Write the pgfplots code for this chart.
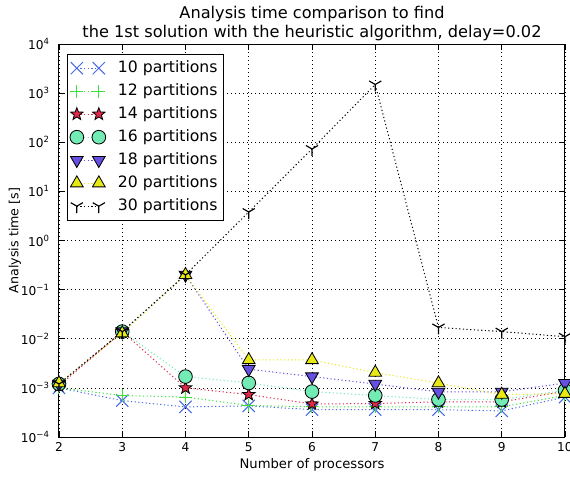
\documentclass[border=0pt]{standalone}
\usepackage{fontspec}
\setmainfont{DejaVu Sans}
\usepackage{pgfplots}
\pgfplotsset{compat=1.18}

\definecolor{c10}{RGB}{70,105,230}
\definecolor{c12}{RGB}{60,225,60}
\definecolor{c14}{RGB}{225,40,75}
\definecolor{c16}{RGB}{115,235,180}
\definecolor{c18}{RGB}{100,80,225}
\definecolor{c20}{RGB}{232,232,20}

\pgfdeclareplotmark{fstar}{%
  \pgfpathmoveto{\pgfpointpolar{90}{\pgfplotmarksize}}%
  \pgfpathlineto{\pgfpointpolar{126}{0.42\pgfplotmarksize}}%
  \pgfpathlineto{\pgfpointpolar{162}{\pgfplotmarksize}}%
  \pgfpathlineto{\pgfpointpolar{198}{0.42\pgfplotmarksize}}%
  \pgfpathlineto{\pgfpointpolar{234}{\pgfplotmarksize}}%
  \pgfpathlineto{\pgfpointpolar{270}{0.42\pgfplotmarksize}}%
  \pgfpathlineto{\pgfpointpolar{306}{\pgfplotmarksize}}%
  \pgfpathlineto{\pgfpointpolar{342}{0.42\pgfplotmarksize}}%
  \pgfpathlineto{\pgfpointpolar{18}{\pgfplotmarksize}}%
  \pgfpathlineto{\pgfpointpolar{54}{0.42\pgfplotmarksize}}%
  \pgfpathclose\pgfusepathqfillstroke}
\pgfdeclareplotmark{tridown}{%
  \pgfpathmoveto{\pgfpointorigin}\pgfpathlineto{\pgfpointpolar{270}{\pgfplotmarksize}}%
  \pgfpathmoveto{\pgfpointorigin}\pgfpathlineto{\pgfpointpolar{30}{\pgfplotmarksize}}%
  \pgfpathmoveto{\pgfpointorigin}\pgfpathlineto{\pgfpointpolar{150}{\pgfplotmarksize}}%
  \pgfusepathqstroke}

\begin{document}
\begin{tikzpicture}
\useasboundingbox (-35.4pt,-24pt) rectangle (306.6pt,262.2pt);
\begin{axis}[
  at={(0,0)}, anchor=south west,
  scale only axis, width=303.6pt, height=235.8pt,
  font=\fontsize{9.4}{11}\selectfont,
  /pgf/number format/assume math mode=true,
  ymode=log, log basis y=10,
  xmin=2, xmax=10, ymin=1e-4, ymax=1e4,
  xtick={2,3,4,5,6,7,8,9,10},
  ytick={1e-4,1e-3,1e-2,1e-1,1,10,100,1000,10000},
  yticklabel={\pgfmathtruncatemacro{\e}{round(\tick)}10\textsuperscript{\ifnum\e<0 −\number-\e\else\e\fi}},
  xticklabel style={font=\fontsize{7.3}{9}\selectfont},
  yticklabel style={font=\fontsize{7.3}{9}\selectfont, xshift=-2pt},
  major tick length=3.6pt, minor tick length=1.8pt,
  tick style={black, line width=0.5pt},
  axis line style={black, line width=0.6pt},
  grid=major,
  major grid style={black, line width=0.4pt, dash pattern=on 0.6pt off 1.8pt},
  xlabel={Number of processors},
  ylabel={Analysis time [s]},
  xlabel style={font=\fontsize{7.9}{9}\selectfont, at={(axis description cs:0.5,-0.0712)}, anchor=center},
  ylabel style={font=\fontsize{7.6}{9}\selectfont, at={(axis description cs:-0.087,0.5)}, anchor=center},
  title={Analysis time comparison to find\\the 1st solution with the heuristic algorithm, delay=0.02},
  title style={align=center, font=\fontsize{9.7}{11.4}\selectfont, at={(axis description cs:0.5,1)}, anchor=center, yshift=6.3pt},
  every axis plot/.append style={line width=0.6pt, dash pattern=on 0.7pt off 1.5pt},
  legend style={at={(0,1)}, anchor=north west, xshift=4.8pt, yshift=-5.8pt,
    font=\fontsize{9.4}{11}\selectfont, draw=black, line width=0.6pt, inner sep=1.5pt,
    row sep=0pt, nodes={text height=7pt, text depth=2pt, inner ysep=2.4pt},
    /tikz/every odd column/.append style={column sep=5.4pt}},
  legend cell align=left,
  legend image code/.code={\draw[#1] plot coordinates {(0pt,0pt) (13.2pt,0pt)};},
]
\addplot[color=c10, mark=x, mark size=5.2pt, mark options={solid, line width=0.6pt}] coordinates {
 (2,1.0e-3) (3,5.5e-4) (4,4.1e-4) (5,4.3e-4) (6,3.6e-4) (7,3.6e-4) (8,3.6e-4) (9,3.4e-4) (10,6.5e-4)};
\addlegendentry{10 partitions}
\addplot[color=c12, mark=+, mark size=3.8pt, mark options={solid, line width=0.6pt}] coordinates {
 (2,1.0e-3) (3,7.0e-4) (4,6.5e-4) (5,4.4e-4) (6,4.1e-4) (7,4.1e-4) (8,4.1e-4) (9,4.1e-4) (10,7.0e-4)};
\addlegendentry{12 partitions}
\addplot[color=c14, mark=fstar, mark size=3.9pt, mark options={solid, fill=c14, draw=black, line width=0.5pt}] coordinates {
 (2,1.1e-3) (3,0.014) (4,1.0e-3) (5,7.3e-4) (6,4.7e-4) (7,4.8e-4) (8,5.2e-4) (9,5.2e-4) (10,8.5e-4)};
\addlegendentry{14 partitions}
\addplot[color=c16, mark=*, mark size=4.1pt, mark options={solid, fill=c16, draw=black, line width=0.5pt}] coordinates {
 (2,1.2e-3) (3,0.014) (4,1.7e-3) (5,1.26e-3) (6,8.4e-4) (7,7.0e-4) (8,5.8e-4) (9,5.8e-4) (10,8.9e-4)};
\addlegendentry{16 partitions}
\addplot[color=c18, mark=triangle*, mark size=4.4pt, mark options={solid, rotate=180, fill=c18, draw=black, line width=0.5pt}] coordinates {
 (2,1.2e-3) (3,0.014) (4,0.2) (5,2.4e-3) (6,1.7e-3) (7,1.2e-3) (8,8.3e-4) (9,8.3e-4) (10,1.25e-3)};
\addlegendentry{18 partitions}
\addplot[color=c20, mark=triangle*, mark size=4.4pt, mark options={solid, fill=c20, draw=black, line width=0.5pt}] coordinates {
 (2,1.25e-3) (3,0.013) (4,0.2) (5,3.7e-3) (6,3.7e-3) (7,2.05e-3) (8,1.25e-3) (9,7.3e-4) (10,7.6e-4)};
\addlegendentry{20 partitions}
\addplot[color=black, mark=tridown, mark size=4.2pt, mark options={solid, line width=0.7pt}] coordinates {
 (2,1.2e-3) (3,0.014) (4,0.2) (5,3.8) (6,73) (7,1500) (8,0.017) (9,0.014) (10,0.011)};
\addlegendentry{30 partitions}
\end{axis}
\end{tikzpicture}
\end{document}
